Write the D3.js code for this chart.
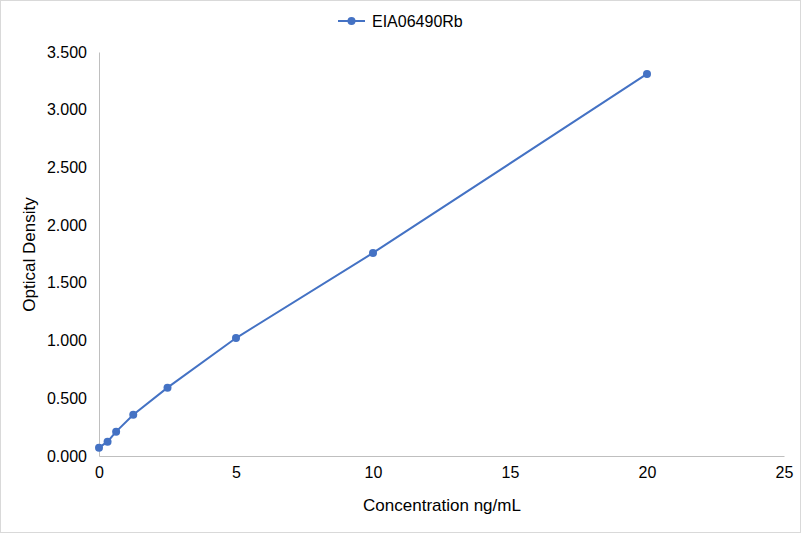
<!DOCTYPE html>
<html>
<head>
<meta charset="utf-8">
<script src="https://cdn.jsdelivr.net/npm/d3@7"></script>
<style>
  body { margin: 0; background: #fff; }
  #chart { width: 801px; height: 533px; }
  text { font-family: "Liberation Sans", Arial, sans-serif; fill: #000; }
</style>
</head>
<body>
<div id="chart"></div>
<script>
// standard curve values
var seriesName = "EIA06490Rb";
var concentration = [0, 0.3125, 0.625, 1.25, 2.5, 5, 10, 20];
var density = [0.072, 0.124, 0.211, 0.358, 0.592, 1.022, 1.759, 3.31];
var xTickValues = [0, 5, 10, 15, 20, 25];
var yTickValues = [0, 0.5, 1, 1.5, 2, 2.5, 3, 3.5];

var width = 801, height = 533;
var margin = { top: 52, right: 17, bottom: 77, left: 99 };
var color = "#4472c4";

var svg = d3.select("#chart").append("svg")
    .attr("width", width)
    .attr("height", height);

// outer frame
svg.append("rect")
    .attr("x", 0.5).attr("y", 0.5)
    .attr("width", width - 1).attr("height", height - 1)
    .attr("fill", "#fff")
    .attr("stroke", "#d9d9d9");

var x = d3.scaleLinear().domain([0, 25]).range([margin.left, width - margin.right]);
var y = d3.scaleLinear().domain([0, 3.5]).range([height - margin.bottom, margin.top]);

var xAxis = d3.axisBottom(x).tickValues(xTickValues).tickSize(0).tickPadding(11);
var yAxis = d3.axisLeft(y).tickValues(yTickValues).tickSize(0).tickPadding(12)
    .tickFormat(d3.format(".3f"));

var gx = svg.append("g")
    .attr("transform", "translate(0," + y(0) + ")")
    .call(xAxis);
gx.select(".domain").attr("stroke", "#bfbfbf");
gx.selectAll("text").style("font-size", "16px");

var gy = svg.append("g")
    .attr("transform", "translate(" + x(0) + ",0)")
    .call(yAxis);
gy.select(".domain").attr("stroke", "#bfbfbf");
gy.selectAll("text").style("font-size", "16px");

// axis titles
svg.append("text")
    .attr("x", 442)
    .attr("y", 511)
    .attr("text-anchor", "middle")
    .style("font-size", "17px")
    .text("Concentration ng/mL");

svg.append("text")
    .attr("transform", "translate(35,254.5) rotate(-90)")
    .attr("text-anchor", "middle")
    .style("font-size", "17px")
    .text("Optical Density");

// the curve
var pts = concentration.map(function(c, i) { return [c, density[i]]; });
var line = d3.line()
    .x(function(d) { return x(d[0]); })
    .y(function(d) { return y(d[1]); });

svg.append("path")
    .datum(pts)
    .attr("fill", "none")
    .attr("stroke", color)
    .attr("stroke-width", 2)
    .attr("d", line);

svg.selectAll("circle.pt")
    .data(pts)
    .enter().append("circle")
    .attr("class", "pt")
    .attr("cx", function(d) { return x(d[0]); })
    .attr("cy", function(d) { return y(d[1]); })
    .attr("r", 4)
    .attr("fill", color);

// legend
var legend = svg.append("g").attr("transform", "translate(338,21)");
legend.append("line")
    .attr("x1", 0).attr("x2", 27)
    .attr("stroke", color).attr("stroke-width", 2);
legend.append("circle").attr("cx", 13.5).attr("r", 4).attr("fill", color);
legend.append("text")
    .attr("x", 34).attr("y", 6)
    .style("font-size", "16px")
    .text(seriesName);
</script>
</body>
</html>
